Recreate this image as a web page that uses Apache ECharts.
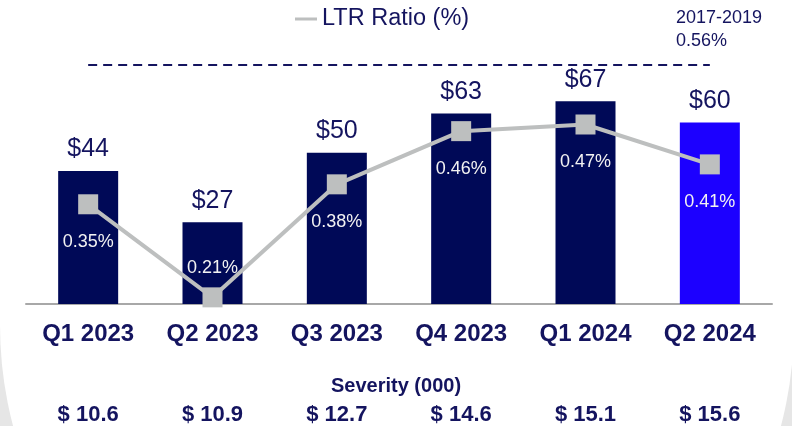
<!DOCTYPE html>
<html>
<head>
<meta charset="utf-8">
<script src="https://cdn.jsdelivr.net/npm/echarts@6/dist/echarts.min.js"></script>
<style>
  html, body { margin: 0; padding: 0; background: #e6e6e6; }
  #main { width: 792px; height: 426px; }
</style>
</head>
<body>
<div id="main"></div>
<script>
// data
var quarters = ['Q1 2023', 'Q2 2023', 'Q3 2023', 'Q4 2023', 'Q1 2024', 'Q2 2024'];
var losses = [44, 27, 50, 63, 67, 60];
var ltrRatio = [0.35, 0.21, 0.38, 0.46, 0.47, 0.41];
var severity = [10.6, 10.9, 12.7, 14.6, 15.1, 15.6];
var benchPeriod = '2017-2019';
var benchValue = 0.56;

var navy = '#14145f';
var barNavy = '#000957';
var barBlue = '#1c00ff';
var lineGray = '#bdbfbf';
var font = '"Liberation Sans", Arial, sans-serif';

var barData = losses.map(function(v, i) {
	var last = i === losses.length - 1;
	return { value: v, itemStyle: { color: last ? barBlue : barNavy } };
});

var lineData = ltrRatio.map(function(v) {
	// the lowest point sits on the axis, so its label goes above it
	var low = v < 0.25;
	return { value: v, label: { position: low ? 'top' : 'bottom', distance: low ? 10 : 19 } };
});

var chart = echarts.init(document.getElementById('main'));

chart.setOption({
	backgroundColor: '#e6e6e6',
	animation: false,
	textStyle: { fontFamily: font },
	graphic: [
		{ type: 'rect', z: -10, silent: true, shape: { x: 0, y: 0, width: 792, height: 326 }, style: { fill: '#ffffff' } },
		{ type: 'circle', z: -10, silent: true, shape: { cx: 397, cy: 325, r: 397 }, style: { fill: '#ffffff' } }
	],
	title: [
		{
			text: benchPeriod + '\n' + benchValue.toFixed(2) + '%',
			left: 671, top: 2,
			textStyle: { fontFamily: font, fontSize: 18, fontWeight: 'normal', color: navy, lineHeight: 23 }
		},
		{
			text: 'Severity (000)',
			left: 'center', top: 371,
			textStyle: { fontFamily: font, fontSize: 20, fontWeight: 'bold', color: navy }
		}
	],
	legend: {
		data: ['LTR Ratio (%)'],
		left: 290, top: 2,
		icon: 'rect', itemWidth: 22, itemHeight: 3, itemGap: 6,
		textStyle: { fontFamily: font, fontSize: 23.5, color: navy }
	},
	grid: { left: 26, right: 20, top: 62, bottom: 122, containLabel: false },
	xAxis: [
		{
			type: 'category', data: quarters,
			axisLine: { lineStyle: { color: '#a8a8a8', width: 2 } },
			axisTick: { show: false },
			axisLabel: { margin: 18, fontFamily: font, fontSize: 24, fontWeight: 'bold', color: navy }
		},
		{
			type: 'category', data: severity, position: 'bottom', offset: 88,
			axisLine: { show: false }, axisTick: { show: false },
			axisLabel: {
				margin: 12, fontFamily: font, fontSize: 22, fontWeight: 'bold', color: navy,
				formatter: function(v) { return '$ ' + Number(v).toFixed(1); }
			}
		}
	],
	yAxis: [
		{ type: 'value', min: 0, max: 80, show: false, splitLine: { show: false } },
		{ type: 'value', min: 0.2, max: 0.564, show: false, splitLine: { show: false } }
	],
	series: [
		{
			name: 'Losses',
			type: 'bar',
			barWidth: 60,
			data: barData,
			label: {
				show: true, position: 'top', distance: 9,
				fontFamily: font, fontSize: 25, color: navy,
				formatter: function(p) { return '$' + p.value; }
			}
		},
		{
			name: 'LTR Ratio (%)',
			type: 'line',
			yAxisIndex: 1,
			data: lineData,
			symbol: 'rect',
			symbolSize: 20,
			lineStyle: { color: lineGray, width: 4 },
			itemStyle: { color: lineGray },
			label: {
				show: true,
				fontFamily: font, fontSize: 18, color: '#f2f2f2',
				formatter: function(p) { return p.value.toFixed(2) + '%'; }
			},
			markLine: {
				silent: true,
				symbol: 'none',
				label: { show: false },
				lineStyle: { color: navy, width: 2, type: [9, 6] },
				data: [[{ coord: [0, benchValue] }, { coord: [quarters.length - 1, benchValue] }]]
			}
		}
	]
});
</script>
</body>
</html>
